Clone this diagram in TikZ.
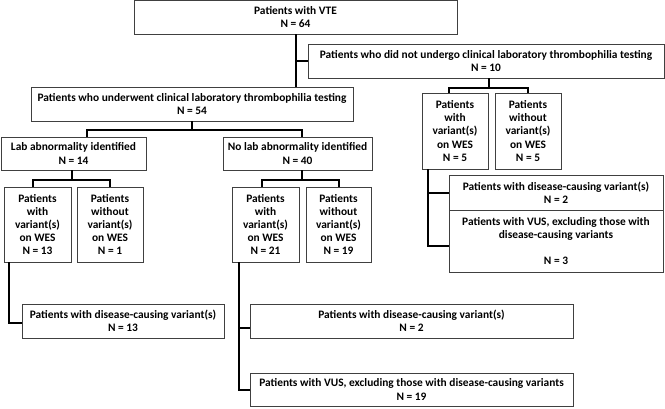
\documentclass[tikz,border=0pt]{standalone}
\usepackage{fontspec}
\setmainfont{Carlito}
\begin{document}
\begin{tikzpicture}[x=1pt,y=-1pt,
  box/.style={draw=black!75, line width=0.9pt, inner sep=0pt, align=center,
    font=\fontsize{11.4}{13.2}\selectfont\bfseries},
  link/.style={line width=2pt, black}]
\useasboundingbox (0,0) rectangle (665,408);
% boxes
\node[box, minimum width=323pt, minimum height=33.5pt] (top) at (295.5,17.25) {Patients with VTE\\N = 64};
\node[box, minimum width=356pt, minimum height=34pt] (nott) at (486,61) {Patients who did not undergo clinical laboratory thrombophilia testing\\N = 10};
\node[box, minimum width=322pt, minimum height=34pt] (und) at (192,104) {Patients who underwent clinical laboratory thrombophilia testing\\N = 54};
\node[box, minimum width=145pt, minimum height=33pt] (lab) at (73.5,153.5) {Lab abnormality identified\\N = 14};
\node[box, minimum width=149pt, minimum height=33pt] (nolab) at (297.5,153.5) {No lab abnormality identified\\N = 40};
\node[box, minimum width=67pt, minimum height=75pt] (a) at (37.5,224.5) {Patients\\with\\variant(s)\\on WES\\N = 13};
\node[box, minimum width=66pt, minimum height=75pt] (b) at (110,224.5) {Patients\\without\\variant(s)\\on WES\\N = 1};
\node[box, minimum width=67pt, minimum height=75pt] (c) at (265.5,224.5) {Patients\\with\\variant(s)\\on WES\\N = 21};
\node[box, minimum width=65pt, minimum height=75pt] (d) at (338.5,224.5) {Patients\\without\\variant(s)\\on WES\\N = 19};
\node[box, minimum width=66pt, minimum height=76pt] (e) at (455,131) {Patients\\with\\variant(s)\\on WES\\N = 5};
\node[box, minimum width=66pt, minimum height=76pt] (f) at (528,131) {Patients\\without\\variant(s)\\on WES\\N = 5};
\node[box, minimum width=202pt, minimum height=34pt] (g) at (123,321) {Patients with disease-causing variant(s)\\N = 13};
\node[box, minimum width=323pt, minimum height=34pt] (h) at (411.5,321) {Patients with disease-causing variant(s)\\N = 2};
\node[box, minimum width=323pt, minimum height=33pt] (i) at (411.5,389.5) {Patients with VUS, excluding those with disease-causing variants\\N = 19};
\node[box, minimum width=214pt, minimum height=35pt] (j) at (556,192.5) {Patients with disease-causing variant(s)\\N = 2};
\node[box, minimum width=214pt, minimum height=62pt] (k) at (556,241) {Patients with VUS, excluding those with\\disease-causing variants\\[13pt]N = 3};
% connectors
\draw[link] (top.south) -- (top.south |- und.north);
\draw[link] (top.south |- nott.west) -- (nott.west);
\draw[link] ([xshift=3pt]nott.south) -- ([xshift=3pt,yshift=5pt]nott.south |- e.north);
\draw[link] ([xshift=-6pt]e.north) -- ([xshift=-6pt,yshift=5pt]e.north) -| (f.north);
\draw[link] (und.south) -- ([yshift=7pt]und.south |- lab.north);
\draw[link] ([xshift=13pt]lab.north) -- ([xshift=13pt,yshift=7pt]lab.north) -| ([xshift=4pt]nolab.north);
\draw[link] ([xshift=-1.5pt]lab.south) -- ([xshift=-1.5pt,yshift=7pt]lab.south |- a.north);
\draw[link] ([xshift=-4.5pt]a.north) -- ([xshift=-4.5pt,yshift=7pt]a.north) -| (b.north);
\draw[link] ([xshift=4.5pt]nolab.south) -- ([xshift=4.5pt,yshift=7pt]nolab.south |- c.north);
\draw[link] ([xshift=-3.5pt]c.north) -- ([xshift=-3.5pt,yshift=7pt]c.north) -| (d.north);
\draw[link] ([xshift=-28.5pt]a.south) |- ([yshift=-2pt]g.west);
\draw[link] ([xshift=-26.5pt]c.south) |- (i.west);
\draw[link] ([xshift=-26.5pt]c.south |- h.west) ++(0,7) -- ([yshift=-7pt]h.west);
\draw[link] ([xshift=-27pt]e.south) |- ([yshift=-5pt]k.west);
\draw[link] ([xshift=-27pt]e.south |- j.west) -- (j.west);
\end{tikzpicture}
\end{document}
